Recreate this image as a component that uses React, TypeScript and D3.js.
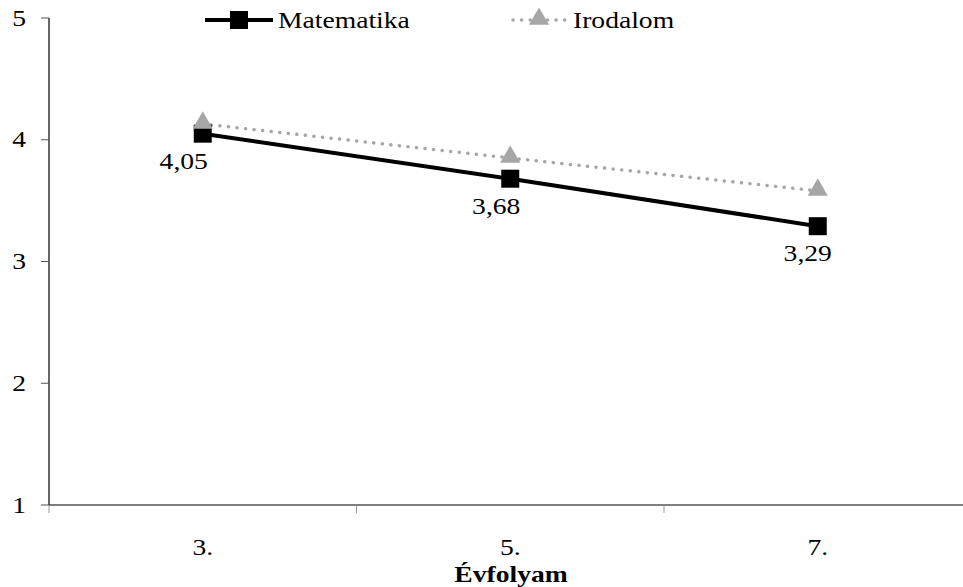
import React from "react";
import * as d3 from "d3";

const categories = ["3.", "5.", "7."];
const matematika = [4.05, 3.68, 3.29];
const irodalom = [4.13, 3.85, 3.58];
const yTicks = [1, 2, 3, 4, 5];
const seriesNames = ["Matematika", "Irodalom"];
const axisTitle = "Évfolyam";

const W = 963;
const H = 587;
const FONT = "'Liberation Serif', 'Times New Roman', serif";
const FS = 23;
const STRETCH = 1.2;
const labelShift = [-19, -14, -10];

type TProps = {
  x: number;
  y: number;
  anchor?: "start" | "middle" | "end";
  bold?: boolean;
  dy?: string;
  children: React.ReactNode;
};

// Text drawn with a slightly widened face
function T({ x, y, anchor = "start", bold = false, dy, children }: TProps) {
  return (
    <text
      transform={`translate(${x},${y}) scale(${STRETCH},1)`}
      textAnchor={anchor}
      dy={dy}
      fontSize={FS}
      fontWeight={bold ? "bold" : "normal"}
      fontFamily={FONT}
      fill="#000"
    >
      {children}
    </text>
  );
}

export default function App() {
  const x = d3.scaleBand<string>().domain(categories).range([49, 971.5]).padding(0);
  const y = d3.scaleLinear().domain([1, 5]).range([505, 18]);
  const cx = (c: string) => (x(c) ?? 0) + x.bandwidth() / 2;

  const line = d3
    .line<number>()
    .x((_, i) => cx(categories[i]))
    .y((d) => y(d));

  const tri = d3.symbol().type(d3.symbolTriangle).size(175)();
  const sq = 18;

  const xTickPositions = categories.map((c) => x(c) ?? 0).concat([x.range()[1]]);

  return (
    <svg
      width={W}
      height={H}
      style={{ position: "absolute", left: 0, top: 0, background: "#fff" }}
      fontFamily={FONT}
    >
      <rect width={W} height={H} fill="#fff" />
      {/* y axis */}
      <line x1={49} x2={49} y1={y(5)} y2={y(1)} stroke="#000" strokeWidth={1.2} />
      {yTicks.map((t) => (
        <g key={t}>
          <line x1={41} x2={49} y1={y(t)} y2={y(t)} stroke="#555" strokeWidth={1} />
          <T x={26} y={y(t)} dy="0.33em" anchor="end">
            {t}
          </T>
        </g>
      ))}
      {/* x axis */}
      <line x1={49} x2={W} y1={y(1)} y2={y(1)} stroke="#000" strokeWidth={1.2} />
      {xTickPositions.map((p, i) => (
        <line key={i} x1={p} x2={p} y1={y(1)} y2={y(1) + 8} stroke="#999" strokeWidth={1} />
      ))}
      {categories.map((c) => (
        <T key={c} x={cx(c)} y={555} anchor="middle">
          {c}
        </T>
      ))}
      <T x={511} y={582} anchor="middle" bold>
        {axisTitle}
      </T>

      {/* Irodalom series */}
      <path
        d={line(irodalom) ?? ""}
        fill="none"
        stroke="#a6a6a6"
        strokeWidth={3.5}
        strokeDasharray="0.1 8.5"
        strokeLinecap="round"
      />
      {/* Matematika series */}
      <path d={line(matematika) ?? ""} fill="none" stroke="#000" strokeWidth={4} />
      {matematika.map((v, i) => (
        <rect
          key={"m" + i}
          x={cx(categories[i]) - sq / 2}
          y={y(v) - sq / 2}
          width={sq}
          height={sq}
          fill="#000"
        />
      ))}
      {irodalom.map((v, i) => (
        <path
          key={"i" + i}
          d={tri ?? ""}
          transform={`translate(${cx(categories[i])},${y(v) - 1})`}
          fill="#a6a6a6"
        />
      ))}
      {matematika.map((v, i) => (
        <T key={"l" + i} x={cx(categories[i]) + labelShift[i]} y={y(v) + 35} anchor="middle">
          {d3.format(".2f")(v).replace(".", ",")}
        </T>
      ))}

      {/* legend */}
      <g>
        <line x1={205} x2={273} y1={20} y2={20} stroke="#000" strokeWidth={4} />
        <rect x={239 - sq / 2} y={20 - sq / 2} width={sq} height={sq} fill="#000" />
        <T x={278} y={20} dy="0.33em">
          {seriesNames[0]}
        </T>
        <line
          x1={513}
          x2={567}
          y1={20}
          y2={20}
          stroke="#a6a6a6"
          strokeWidth={3.5}
          strokeDasharray="0.1 8.5"
          strokeLinecap="round"
        />
        <path d={tri ?? ""} transform="translate(539,19)" fill="#a6a6a6" />
        <T x={573} y={20} dy="0.33em">
          {seriesNames[1]}
        </T>
      </g>
    </svg>
  );
}
